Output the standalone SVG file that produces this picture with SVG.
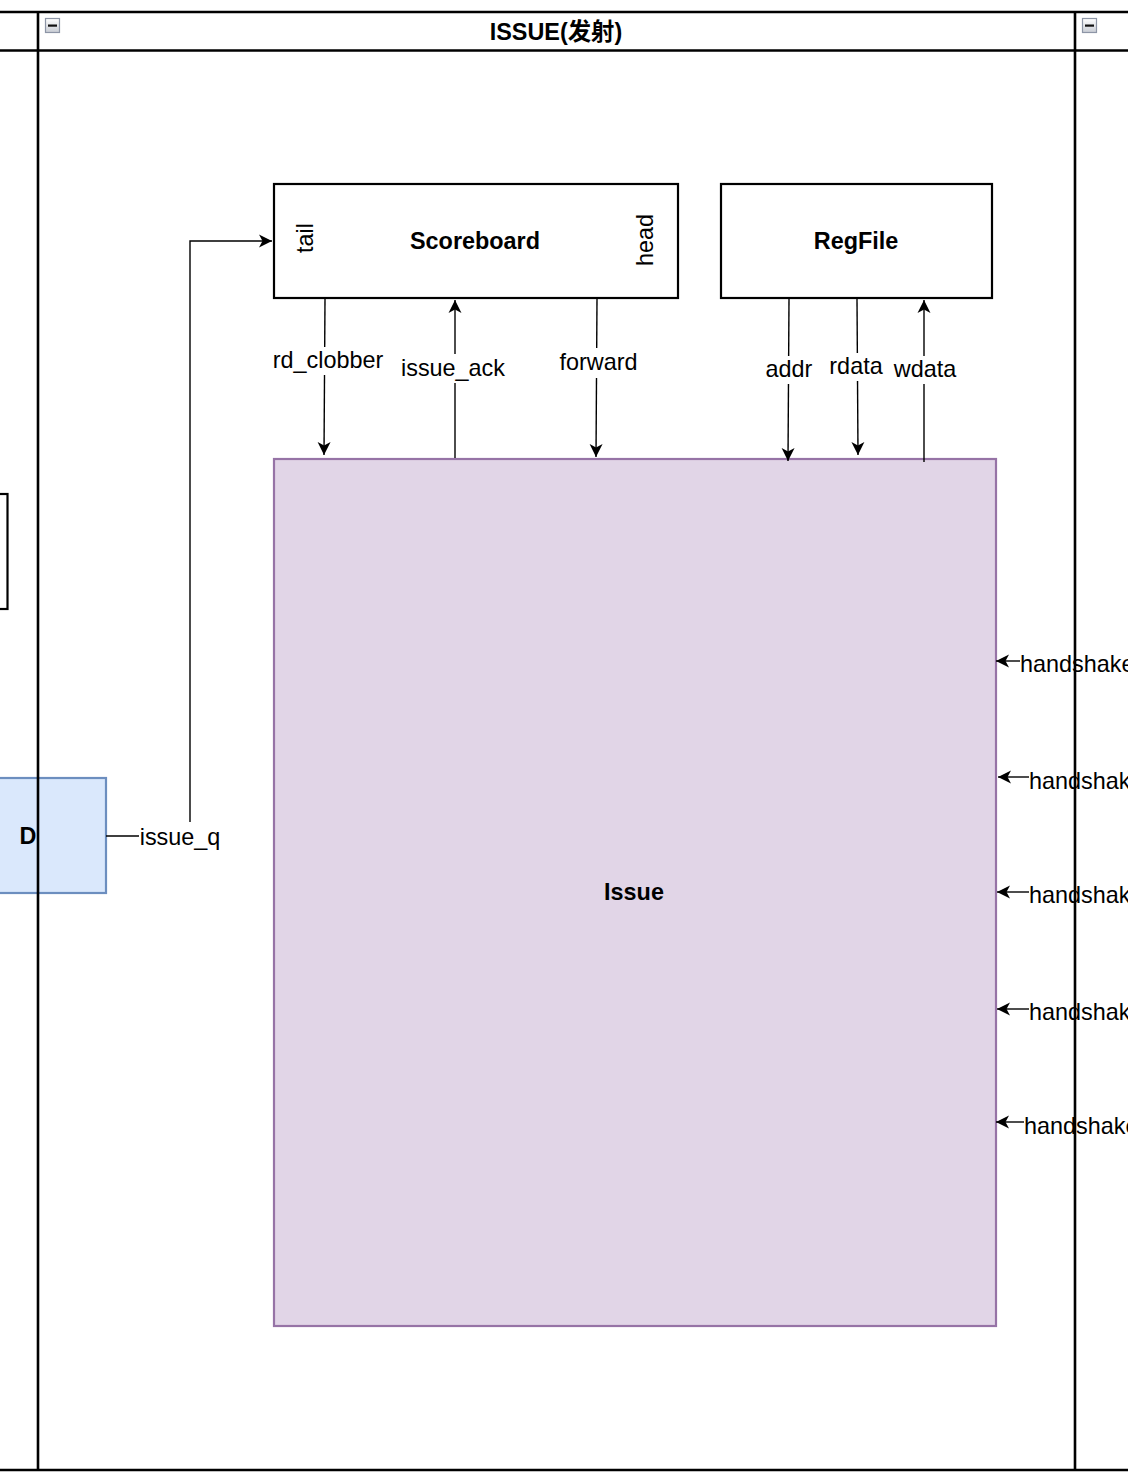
<svg xmlns="http://www.w3.org/2000/svg" width="1128" height="1480" viewBox="0 0 1128 1480">
<style>
.t{font-family:"Liberation Sans","Noto Sans CJK SC",Arial,sans-serif;font-size:23.4px;fill:#000}
.b{font-weight:bold}
.m{text-anchor:middle}
.box{fill:#fff;stroke:#000;stroke-width:2.2}
.e{fill:none;stroke:#000;stroke-width:1.4}
.lane{fill:none;stroke:#000;stroke-width:2.6}
.lb{fill:#fff}
</style>
<defs>
<marker id="a" markerUnits="userSpaceOnUse" markerWidth="14" markerHeight="14" viewBox="0 0 14 14" refX="13" refY="7" orient="auto">
<path d="M0,0.5 L13,7 L0,13.5 L3.5,7 Z" fill="#000"/>
</marker>
<linearGradient id="ig" x1="0" y1="0" x2="0" y2="1">
<stop offset="0" stop-color="#ffffff"/>
<stop offset="1" stop-color="#c8ccd4"/>
</linearGradient>
</defs>
<rect width="1128" height="1480" fill="#fff"/>

<g id="left-node">
<rect x="-10" y="494" width="17.5" height="115" class="box"/>
</g>
<g id="node-D">
<rect x="-10" y="778" width="116" height="115" fill="#dae8fc" stroke="#6c8ebf" stroke-width="2.2"/>
<text x="28" y="844" class="t b m">D</text>
</g>

<g id="node-scoreboard">
<rect x="274" y="184" width="404" height="114" class="box"/>
<text x="475" y="249" class="t b m">Scoreboard</text>
<text transform="translate(313,238) rotate(-90)" class="t m">tail</text>
<text transform="translate(653,240) rotate(-90)" class="t m">head</text>
</g>
<g id="node-regfile">
<rect x="721" y="184" width="271" height="114" class="box"/>
<text x="856" y="249" class="t b m">RegFile</text>
</g>
<g id="node-issue">
<rect x="274" y="459" width="722" height="867" fill="#e1d5e7" stroke="#9673a6" stroke-width="2.2"/>
<text x="634" y="900" class="t b m">Issue</text>
</g>

<g id="connectors">
<path d="M106,836 H190 V241 H272" class="e" marker-end="url(#a)"/>
<rect x="139" y="822" width="84" height="29" class="lb"/>
<text x="180" y="845" class="t m">issue_q</text>

<path d="M325,299 L324,455" class="e" marker-end="url(#a)"/>
<rect x="272" y="347" width="114" height="28" class="lb"/>
<text x="328" y="368" class="t m">rd_clobber</text>

<path d="M455,458 V300" class="e" marker-end="url(#a)"/>
<rect x="399" y="354" width="108" height="29" class="lb"/>
<text x="453" y="376" class="t m">issue_ack</text>

<path d="M597,299 L596,457" class="e" marker-end="url(#a)"/>
<rect x="557" y="348" width="83" height="30" class="lb"/>
<text x="598.5" y="370" class="t m">forward</text>

<path d="M789,299 L788,461" class="e" marker-end="url(#a)"/>
<rect x="764" y="356" width="50" height="28" class="lb"/>
<text x="789" y="377" class="t m">addr</text>

<path d="M857,299 L858,455" class="e" marker-end="url(#a)"/>
<rect x="827" y="353" width="59" height="28" class="lb"/>
<text x="856" y="374" class="t m">rdata</text>

<path d="M924,462 V300" class="e" marker-end="url(#a)"/>
<rect x="892" y="356" width="66" height="28" class="lb"/>
<text x="925" y="377" class="t m">wdata</text>

<path d="M1020,661 H996" class="e" marker-end="url(#a)"/>
<rect x="1020" y="647" width="110" height="29" class="lb"/>
<text x="1020" y="672" class="t">handshake</text>

<path d="M1029,777 H998" class="e" marker-end="url(#a)"/>
<rect x="1029" y="763" width="100" height="29" class="lb"/>
<text x="1029" y="789" class="t">handshake</text>

<path d="M1029,892 H997" class="e" marker-end="url(#a)"/>
<rect x="1029" y="878" width="100" height="29" class="lb"/>
<text x="1029" y="903" class="t">handshake</text>

<path d="M1029,1009 H997" class="e" marker-end="url(#a)"/>
<rect x="1029" y="995" width="100" height="29" class="lb"/>
<text x="1029" y="1020" class="t">handshake</text>

<path d="M1024,1122 H996" class="e" marker-end="url(#a)"/>
<rect x="1024" y="1108" width="105" height="29" class="lb"/>
<text x="1024" y="1134" class="t">handshake</text>
</g>

<g id="lanes">
<path d="M-5,12 H1135 M-5,50.5 H1135 M-5,1470 H1135" class="lane"/>
<path d="M38,12 V1470 M1075,12 V1470" class="lane"/>
<text x="556" y="40" class="t b m">ISSUE(发射)</text>
<g id="collapse-issue">
<rect x="45.5" y="18.5" width="14" height="14" fill="url(#ig)" stroke="#8d95a6" stroke-width="1.2"/>
<rect x="48" y="24.5" width="9" height="2.2" fill="#111"/>
</g>
<g id="collapse-right">
<rect x="1082.5" y="18.5" width="14" height="14" fill="url(#ig)" stroke="#8d95a6" stroke-width="1.2"/>
<rect x="1085" y="24.5" width="9" height="2.2" fill="#111"/>
</g>
</g>
</svg>
